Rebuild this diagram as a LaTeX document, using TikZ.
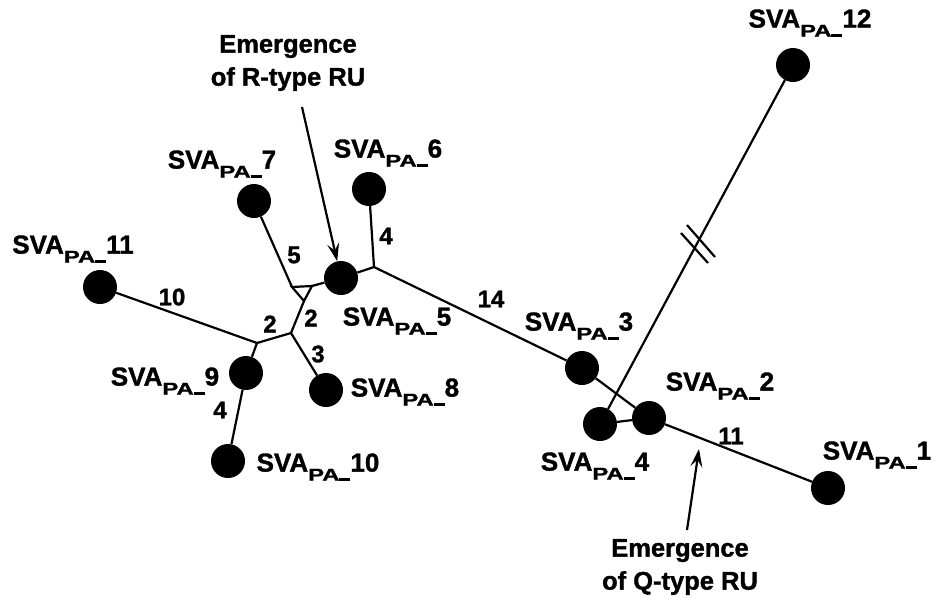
\documentclass[tikz,border=0pt]{standalone}
\usepackage{fontspec}
\setmainfont{Liberation Sans}
\newfontfamily\heavy[FakeBold=1.3]{Liberation Sans Bold}
\usetikzlibrary{arrows.meta}
\newcommand{\sva}[1]{SVA\raisebox{-9pt}{\fontsize{17}{17}\selectfont\scalebox{1.4}[1]{PA}\rule{11pt}{2.8pt}}#1}

\begin{document}
\begin{tikzpicture}[x=1pt,y=-1pt,
		leaf/.style={circle,fill,inner sep=0pt,minimum size=34pt},
		lab/.style={font=\fontsize{26}{26}\selectfont\heavy,inner sep=0pt},
		num/.style={font=\fontsize{24}{24}\selectfont\heavy,inner sep=0pt},
		note/.style={font=\fontsize{25.5}{33}\selectfont\heavy,align=center,inner sep=0pt},
		br/.style={line width=2.2pt},
		pointer/.style={line width=2.2pt,-{Stealth[length=18pt,width=12pt,inset=7pt]}}]
		\useasboundingbox (0,0) rectangle (937,603);
		
		% leaves
		\foreach \n/\x/\y in {1/828/488, 2/649/418, 3/582/368, 4/600/424, 5/341/278, 6/369/189,
			7/254/201, 8/326/390, 9/246/373, 10/228/461, 11/100/287, 12/793/65}{
			\node[leaf] (n\n) at (\x,\y) {};
		}
		\foreach \n/\x/\y in {1/877/455, 2/720/386, 3/579/326, 4/595/466, 5/397/321, 6/388/153,
			7/222/164, 8/405/392, 9/165/381, 10/318/467, 11/73/249, 12/810/23}{
			\node[lab] (l\n) at (\x,\y) {\sva{\n}};
		}
		
		% inner points
		\coordinate (j1) at (257,343);
		\coordinate (j2) at (291,333);
		\coordinate (j3) at (374,267);
		\coordinate (t1) at (292,287);
		\coordinate (t2) at (312,286);
		\coordinate (t3) at (304,301);
		
		\draw[br] (n11) -- (j1) -- (n9);
		\draw[br] (j1) -- (j2) -- (n8);
		\draw[br] (j2) -- (t3);
		\draw[br] (t1) -- (t2) -- (t3) -- cycle;
		\draw[br] (n7) -- (t1);
		\draw[br] (t2) -- (n5) -- (j3) -- (n3) -- (n2) -- (n1);
		\draw[br] (n6) -- (j3);
		\draw[br] (n9) -- (n10);
		\draw[br] (n4) -- (n2);
		\draw[br] (n4) -- (n12);
		
		% break marks
		\coordinate (h1a) at (681,233);
		\coordinate (h1b) at (708,263);
		\coordinate (h2a) at (687,225);
		\coordinate (h2b) at (715,257);
		\draw[br] (h1a) -- (h1b);
		\draw[br] (h2a) -- (h2b);
		
		% branch lengths
		\node[num] (w10) at (172,297) {10};
		\node[num] (w5) at (294,255) {5};
		\node[num] (w2a) at (270,324) {2};
		\node[num] (w2b) at (311,318) {2};
		\node[num] (w3) at (318,354) {3};
		\node[num] (w4a) at (386,236) {4};
		\node[num] (w4b) at (220,410) {4};
		\node[num] (w14) at (491,299) {14};
		\node[num] (w11) at (731,436) {11};
		
		% notes
		\node[note] (noteR) at (288,63) {Emergence\\of R-type RU};
		\node[note] (noteQ) at (680,567) {Emergence\\of Q-type RU};
		\coordinate (rtail) at (302,107);
		\coordinate (qtail) at (687,530);
		\coordinate (qtip) at (699,449);
		\draw[pointer] (rtail) -- (n5);
		\draw[pointer] (qtail) -- (qtip);
	\end{tikzpicture}
\end{document}
